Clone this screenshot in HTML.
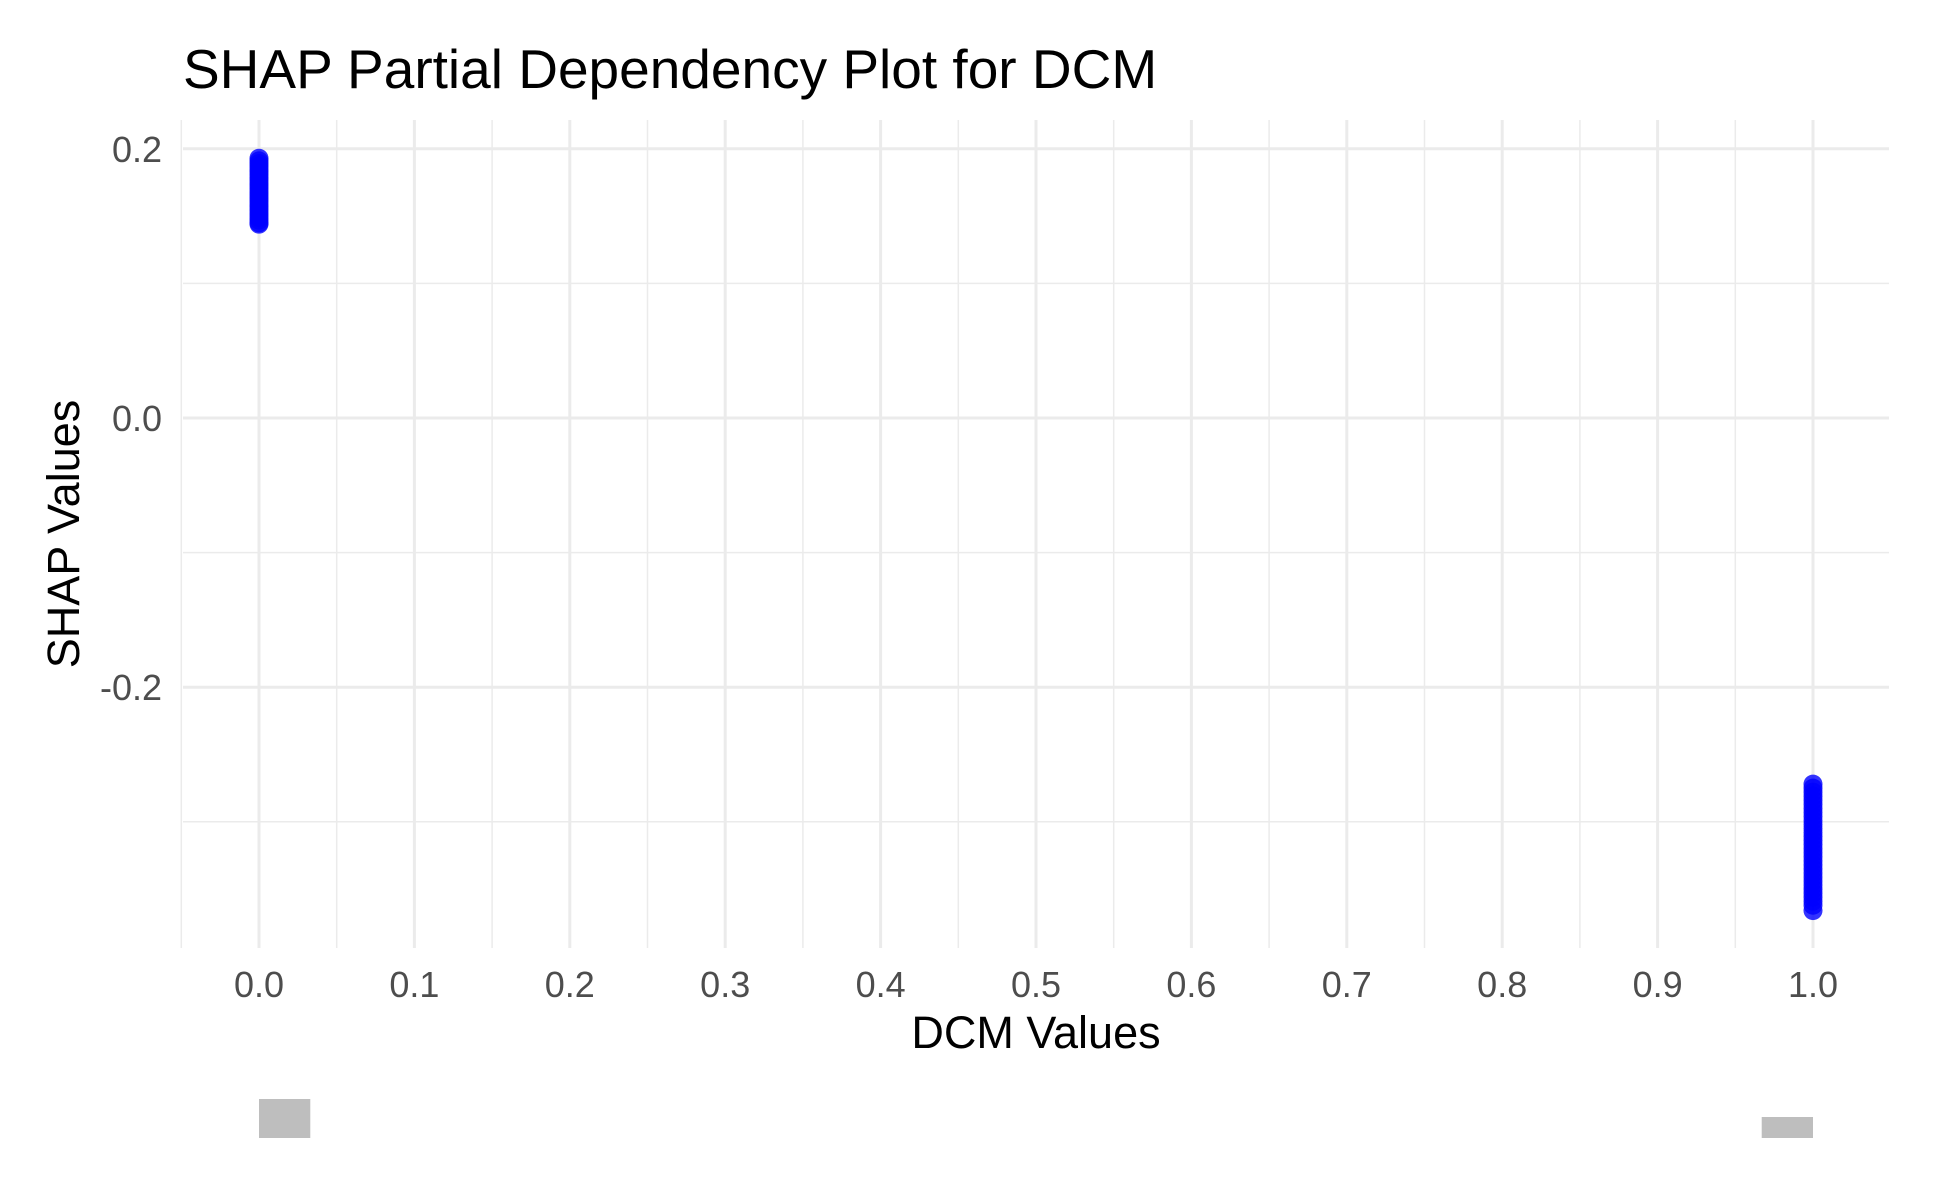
<!DOCTYPE html>
<html><head><meta charset="utf-8"><style>body{margin:0;background:#fff}svg{display:block;font-family:"Liberation Sans",sans-serif}</style></head>
<body>
<svg id="chart" width="1937" height="1195" viewBox="0 0 1937 1195" xmlns="http://www.w3.org/2000/svg">
<text x="183" y="88" font-size="55" fill="#000">SHAP Partial Dependency Plot for DCM</text>
<g id="grid"></g>
<g id="hist"></g>
<g id="points"></g>
<g id="xticks"></g>
<g id="yticks"></g>
<text x="1036" y="1048" font-size="45" text-anchor="middle" fill="#000">DCM Values</text>
<text transform="translate(79,534) rotate(-90)" font-size="45" text-anchor="middle" fill="#000">SHAP Values</text>
</svg>
<script>
const xTicks = [0,0.1,0.2,0.3,0.4,0.5,0.6,0.7,0.8,0.9,1.0];
const xTickLabels = ["0.0","0.1","0.2","0.3","0.4","0.5","0.6","0.7","0.8","0.9","1.0"];
const yTicks = [0.2,0.0,-0.2];
const yTickLabels = ["0.2","0.0","-0.2"];
const yMinor = [0.1,-0.1,-0.3];
const xMinor = [-0.05,0.05,0.15,0.25,0.35,0.45,0.55,0.65,0.75,0.85,0.95];
const groupX = [0,1];
const shapLeft = [0.193,0.191,0.189,0.187,0.185,0.183,0.181,0.179,0.177,0.175,0.173,0.171,0.169,0.167,0.165,0.163,0.161,0.159,0.157,0.155,0.153,0.151,0.149,0.147,0.145,0.144];
const shapRight = [-0.272,-0.275,-0.278,-0.281,-0.284,-0.287,-0.29,-0.293,-0.296,-0.299,-0.302,-0.305,-0.308,-0.311,-0.314,-0.317,-0.32,-0.323,-0.326,-0.329,-0.332,-0.335,-0.338,-0.341,-0.344,-0.347,-0.35,-0.353,-0.356,-0.359,-0.362,-0.366];
const histStart = [0,0.967];
const histWidth = 0.033;
const histCounts = [39,21];

const NS="http://www.w3.org/2000/svg";
const X0=259,X1=1813,Y0=418,PX=1346;
const xs=v=>X0+(X1-X0)*v;
const ys=v=>Y0-PX*v;
const T=120,B=948,L=183,R=1889;
function mk(tag,attrs,parent){const e=document.createElementNS(NS,tag);for(const k in attrs)e.setAttribute(k,attrs[k]);document.getElementById(parent).appendChild(e);return e;}
xMinor.forEach(v=>{const e=mk('line',{x1:xs(v),x2:xs(v),y1:T,y2:B,stroke:'#ebebeb','stroke-width':1.5},'grid');

});
yMinor.forEach(v=>{const e=mk('line',{x1:L,x2:R,y1:ys(v),y2:ys(v),stroke:'#ebebeb','stroke-width':1.5},'grid');

});
xTicks.forEach((v,i)=>{const e=mk('line',{x1:xs(v),x2:xs(v),y1:T,y2:B,stroke:'#ebebeb','stroke-width':3},'grid');


const t=mk('text',{x:xs(v),y:997,'font-size':36,'text-anchor':'middle',fill:'#4d4d4d'},'xticks');t.textContent=xTickLabels[i];

});
yTicks.forEach((v,i)=>{const e=mk('line',{x1:L,x2:R,y1:ys(v),y2:ys(v),stroke:'#ebebeb','stroke-width':3},'grid');


const t=mk('text',{x:162,y:ys(v)+13,'font-size':36,'text-anchor':'end',fill:'#4d4d4d'},'yticks');t.textContent=yTickLabels[i];

});
[shapLeft,shapRight].forEach((arr,g)=>arr.forEach(v=>{const c=mk('circle',{cx:xs(groupX[g]),cy:ys(v),r:9.5,fill:'#0000ff','fill-opacity':0.8},'points');

}));
histCounts.forEach((c,i)=>{const r=mk('rect',{x:xs(histStart[i]),y:1138-c,width:xs(histStart[i]+histWidth)-xs(histStart[i]),height:c,fill:'#bebebe'},'hist');

});
</script>
</body></html>
